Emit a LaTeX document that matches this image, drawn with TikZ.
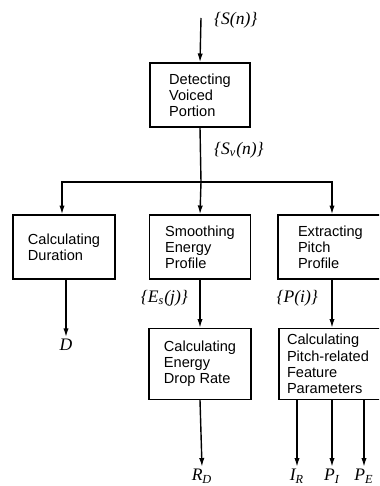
\documentclass[tikz,border=0pt]{standalone}
\usepackage{fontspec}
\setmainfont{Liberation Sans}
\newfontfamily\sigfont{Liberation Serif}
\usetikzlibrary{arrows.meta}

\begin{document}
\begin{tikzpicture}[x=0.02cm, y=-0.02cm,
    procbox/.style={draw, thick, minimum width=102*0.02cm, minimum height=64*0.02cm,
      align=left, font=\fontsize{8.3}{9.2}\selectfont},
    flow/.style={thick, -{Latex[length=5pt,width=3pt]}},
    siglabel/.style={font=\fontsize{10}{11}\selectfont\sigfont\itshape, inner sep=1pt}]
    \clip (0,0) rectangle (379,486);
    \node[procbox, minimum width=100*0.02cm] (detect) at (200,95) {Detecting\\Voiced\\Portion};
    \node[procbox] (dur) at (64,247) {Calculating\\Duration};
    \node[procbox, minimum width=101*0.02cm] (smooth) at (200,247) {Smoothing\\Energy\\Profile};
    \node[procbox, minimum width=112*0.02cm, text width=72*0.02cm] (pitch) at (334,247) {Extracting\\Pitch\\Profile};
    \node[procbox, minimum height=71*0.02cm] (drop) at (200,364) {Calculating\\Energy\\Drop Rate};
    \node[procbox, minimum width=112*0.02cm, minimum height=71*0.02cm, text width=96*0.02cm] (feat) at (335,364) {Calculating\\Pitch-related\\Feature\\Parameters};

    \coordinate (in) at (201,18);
    \coordinate (split) at (201,182);
    \draw[flow] (in) -- (detect.north);
    \node[siglabel, anchor=west] (sn) at (212,20) {\{S(n)\}};
    \draw[thick] (detect.south) -- (split);
    \node[siglabel, anchor=west] (svn) at (212,150) {\{S\textsubscript{v}(n)\}};
    \draw[flow] (split) -| ([xshift=-2*0.02cm]dur.north);
    \draw[flow] (split) -- (smooth.north);
    \draw[flow] (split) -| ([xshift=-2*0.02cm]pitch.north);

    \node[siglabel] (D) at (66,345) {D};
    \draw[flow] (dur.south -| D) -- (D.north);
    \draw[flow] (smooth.south) -- (drop.north);
    \node[siglabel, anchor=east] (es) at (190,298) {\{E\textsubscript{s}(j)\}};
    \draw[flow] (pitch.south -| 332,0) -- (feat.north -| 332,0);
    \node[siglabel, anchor=east] (pi) at (320,298) {\{P(i)\}};

    \node[siglabel] (rd) at (202,476) {R\textsubscript{D}};
    \node[siglabel] (ir) at (297,476) {I\textsubscript{R}};
    \node[siglabel] (pi1) at (332,476) {P\textsubscript{I}};
    \node[siglabel] (pe) at (364,476) {P\textsubscript{E}};
    \draw[flow] (drop.south) -- (rd.north);
    \draw[flow] (feat.south -| ir) -- (ir.north);
    \draw[flow] (feat.south -| pi1) -- (pi1.north);
    \draw[flow] (feat.south -| pe) -- (pe.north);
\end{tikzpicture}
\end{document}
